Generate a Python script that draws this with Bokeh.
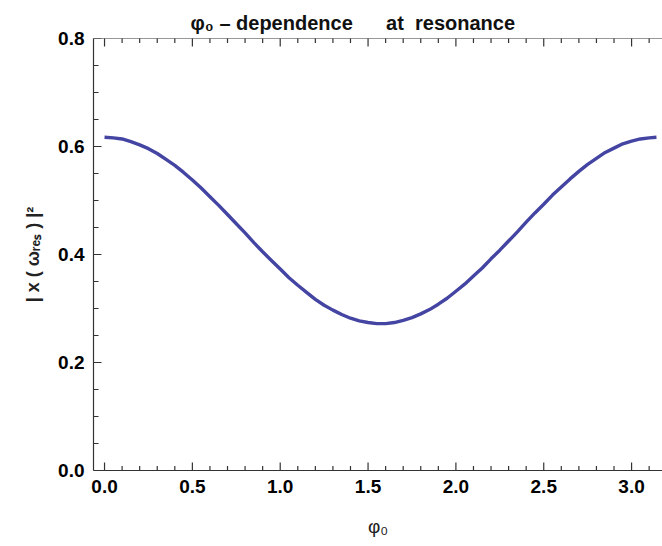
from bokeh.plotting import figure
from bokeh.models import FixedTicker, Range1d, Span
from bokeh.embed import file_html
from bokeh.resources import INLINE
import math

# phase phi0 (rad) and |x(omega_res)|^2
phi0 = [0.0, 0.05, 0.1, 0.15, 0.2, 0.25, 0.3, 0.35, 0.4, 0.45, 0.5,
        0.55, 0.6, 0.65, 0.7, 0.75, 0.8, 0.85, 0.9, 0.95, 1.0,
        1.05, 1.1, 1.15, 1.2, 1.25, 1.3, 1.35, 1.4, 1.45, 1.5,
        1.55, 1.6, 1.65, 1.7, 1.75, 1.8, 1.85, 1.9, 1.95, 2.0,
        2.05, 2.1, 2.15, 2.2, 2.25, 2.3, 2.35, 2.4, 2.45, 2.5,
        2.55, 2.6, 2.65, 2.7, 2.75, 2.8, 2.85, 2.9, 2.95, 3.0,
        3.05, 3.1, 3.1416]
amp2 = [0.617, 0.616, 0.614, 0.609, 0.603, 0.596, 0.587, 0.576, 0.565, 0.552, 0.538,
        0.523, 0.507, 0.491, 0.474, 0.457, 0.440, 0.422, 0.405, 0.389, 0.373,
        0.357, 0.343, 0.330, 0.317, 0.306, 0.297, 0.289, 0.282, 0.277, 0.274,
        0.272, 0.272, 0.274, 0.278, 0.283, 0.290, 0.298, 0.308, 0.319, 0.332,
        0.345, 0.360, 0.375, 0.392, 0.408, 0.425, 0.442, 0.460, 0.477, 0.493,
        0.510, 0.525, 0.540, 0.554, 0.567, 0.578, 0.589, 0.597, 0.605, 0.610,
        0.614, 0.616, 0.617]

x_major = [0.0, 0.5, 1.0, 1.5, 2.0, 2.5, 3.0]
x_minor = [0.1, 0.2, 0.3, 0.4, 0.6, 0.7, 0.8, 0.9, 1.1, 1.2, 1.3, 1.4,
           1.6, 1.7, 1.8, 1.9, 2.1, 2.2, 2.3, 2.4, 2.6, 2.7, 2.8, 2.9, 3.1]
y_major = [0.0, 0.2, 0.4, 0.6, 0.8]
y_minor = [0.05, 0.1, 0.15, 0.25, 0.3, 0.35, 0.45, 0.5, 0.55, 0.65, 0.7, 0.75]

title_text = "\u03c6\u2080 \u2013 dependence\u00a0\u00a0\u00a0\u00a0\u00a0\u00a0at\u00a0\u00a0resonance"
x_label = "\u03c6\u2080"
y_label = "| x ( \u03c9\u1d63\u2091\u209b ) |\u00b2"

FONT = "Liberation Sans"
FRAME = "#333333"

xr = Range1d(-0.0628, 3.176)
yr = Range1d(0.0, 0.8)

p = figure(width=662, height=546, output_backend="svg", toolbar_location=None,
           x_range=xr, y_range=yr,
           min_border_left=93, min_border_right=0, min_border_top=38,
           min_border_bottom=76, background_fill_color="white",
           border_fill_color="white", outline_line_color=None)
p.grid.visible = False

p.line(phi0, amp2, line_color="#4444a3", line_width=3.4, line_join="round")

# inward frame ticks (markers centred on the frame edges; outer half is clipped)
vert = math.pi / 2
TW = 1.2
p.scatter(x_major, [yr.start] * len(x_major), marker="dash", size=16, angle=vert,
          line_color=FRAME, line_width=TW)
p.scatter(x_minor, [yr.start] * len(x_minor), marker="dash", size=9, angle=vert,
          line_color=FRAME, line_width=TW)
p.scatter(x_major, [yr.end] * len(x_major), marker="dash", size=16, angle=vert,
          line_color=FRAME, line_width=TW)
p.scatter(x_minor, [yr.end] * len(x_minor), marker="dash", size=9, angle=vert,
          line_color=FRAME, line_width=TW)
p.scatter([xr.start] * len(y_major), y_major, marker="dash", size=16,
          line_color=FRAME, line_width=TW)
p.scatter([xr.start] * len(y_minor), y_minor, marker="dash", size=10,
          line_color=FRAME, line_width=TW)

p.add_layout(Span(location=yr.end, dimension="width", line_color=FRAME, line_width=1.2))

xt = FixedTicker(ticks=x_major, minor_ticks=x_minor)
yt = FixedTicker(ticks=y_major, minor_ticks=y_minor)


def style(ax):
    ax.axis_line_color = FRAME
    ax.axis_line_width = 1.2
    ax.major_tick_in = 0
    ax.major_tick_out = 0
    ax.minor_tick_in = 0
    ax.minor_tick_out = 0
    ax.major_label_text_font = FONT
    ax.major_label_text_font_style = "bold"
    ax.major_label_text_color = "black"
    ax.major_label_text_font_size = "19px"
    ax.major_label_standoff = 9


xa = p.xaxis[0]
xa.ticker = xt
style(xa)
xa.major_label_overrides = {v: f"{v:.1f}" for v in x_major}
xa.axis_label = x_label
xa.axis_label_text_font = FONT
xa.axis_label_text_font_style = "normal"
xa.axis_label_text_font_size = "19px"
xa.axis_label_text_color = "#222222"
xa.axis_label_standoff = 20

ya = p.yaxis[0]
ya.ticker = yt
style(ya)
ya.major_label_overrides = {v: f"{v:.1f}" for v in y_major}
ya.axis_label = y_label
ya.axis_label_text_font = FONT
ya.axis_label_text_font_style = "bold"
ya.axis_label_text_font_size = "18px"
ya.axis_label_text_color = "#222222"
ya.axis_label_standoff = 12

p.title.text = title_text
p.title.align = "left"
p.title.offset = 97
p.title.text_font = FONT
p.title.text_font_style = "bold"
p.title.text_font_size = "20px"
p.title.text_color = "#111111"
p.title.standoff = 10

open("out.html", "w").write(file_html(p, INLINE))
